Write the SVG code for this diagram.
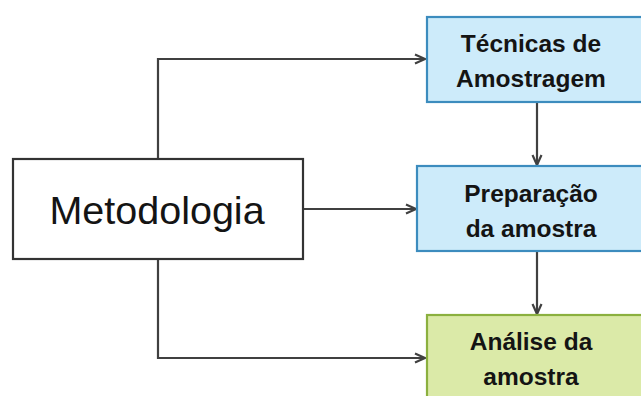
<svg xmlns="http://www.w3.org/2000/svg" width="641" height="396" viewBox="0 0 641 396">
<style>
.c{fill:none;stroke:#404040;stroke-width:2.2}
.b{font-family:"Liberation Sans",Arial,sans-serif;font-weight:bold;font-size:24.5px;fill:#141414;text-anchor:middle}
.m{font-family:"Liberation Sans",Arial,sans-serif;font-size:39.5px;fill:#141414;text-anchor:middle}
.blue{fill:#cdebfa;stroke:#3c8cbe;stroke-width:2.2}
.green{fill:#dbeaa8;stroke:#8bb03f;stroke-width:2.2}
</style>
<defs>
<marker id="ah" viewBox="0 0 12 12" refX="11" refY="6" markerWidth="12" markerHeight="12" markerUnits="userSpaceOnUse" orient="auto">
<path d="M1,1.5 L11,6 L1,10.5" fill="none" stroke="#404040" stroke-width="2.2"/>
</marker>
</defs>
<g id="connectors">
<path class="c" d="M158,158 V59 H425" marker-end="url(#ah)"/>
<path class="c" d="M303,209 H416" marker-end="url(#ah)"/>
<path class="c" d="M158,260 V358 H425" marker-end="url(#ah)"/>
<path class="c" d="M537,103 V165" marker-end="url(#ah)"/>
<path class="c" d="M537,252 V314" marker-end="url(#ah)"/>
</g>
<g id="metodologia">
<rect x="13" y="159" width="290" height="100" fill="#fff" stroke="#333" stroke-width="2.2"/>
<text class="m" x="157" y="224">Metodologia</text>
</g>
<g id="tecnicas">
<rect class="blue" x="427" y="17" width="230" height="85"/>
<text class="b" x="531" y="52">Técnicas de</text>
<text class="b" x="531" y="87">Amostragem</text>
</g>
<g id="preparacao">
<rect class="blue" x="417" y="166" width="240" height="85"/>
<text class="b" x="531" y="202">Preparação</text>
<text class="b" x="531" y="237">da amostra</text>
</g>
<g id="analise">
<rect class="green" x="427" y="315" width="230" height="100"/>
<text class="b" x="531" y="350">Análise da</text>
<text class="b" x="531" y="385">amostra</text>
</g>
</svg>
